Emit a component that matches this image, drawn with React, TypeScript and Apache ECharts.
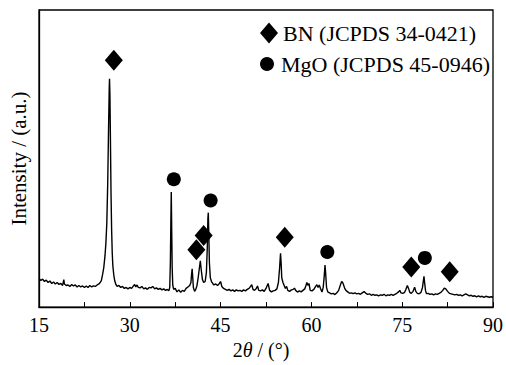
import React, { useEffect, useRef } from "react";
import * as echarts from "echarts";

const twoTheta = [
  15.0, 15.3, 15.6, 15.9, 16.2, 16.5, 16.8, 17.1, 17.4, 17.7, 18.0, 18.3, 18.6, 18.9, 19.1, 19.2, 19.5, 19.8,
  20.1, 20.4, 20.7, 21.0, 21.3, 21.6, 21.9, 22.2, 22.5, 22.8, 23.1, 23.4, 23.7, 24.0, 24.3, 24.6, 24.9, 25.1,
  25.3, 25.5, 25.7, 25.9, 26.05, 26.2, 26.35, 26.5, 26.6, 26.65, 26.72, 26.8, 26.9, 27.0, 27.1, 27.2, 27.35,
  27.5, 27.7, 27.9, 28.2, 28.5, 28.8, 29.1, 29.4, 29.7, 30.0, 30.3, 30.6, 30.8, 31.0, 31.2, 31.4, 31.7, 32.0,
  32.3, 32.6, 32.9, 33.2, 33.5, 33.8, 34.1, 34.4, 34.7, 35.0, 35.3, 35.6, 35.9, 36.2, 36.45, 36.6, 36.7, 36.78,
  36.85, 36.92, 37.0, 37.1, 37.25, 37.5, 37.8, 38.1, 38.4, 38.7, 39.0, 39.3, 39.6, 39.9, 40.1, 40.2, 40.3, 40.4,
  40.5, 40.7, 40.9, 41.1, 41.3, 41.5, 41.65, 41.8, 42.0, 42.2, 42.45, 42.65, 42.8, 42.9, 42.97, 43.05, 43.15,
  43.3, 43.5, 43.7, 43.9, 44.2, 44.5, 44.8, 45.0, 45.2, 45.5, 45.8, 46.1, 46.4, 46.7, 47.0, 47.3, 47.6, 47.9,
  48.2, 48.5, 48.8, 49.1, 49.4, 49.7, 49.95, 50.15, 50.35, 50.6, 50.9, 51.1, 51.3, 51.6, 51.9, 52.2, 52.5, 52.7,
  52.85, 53.1, 53.4, 53.7, 54.0, 54.3, 54.55, 54.75, 54.9, 55.0, 55.1, 55.3, 55.5, 55.7, 55.9, 56.1, 56.4, 56.7,
  57.0, 57.2, 57.4, 57.7, 58.0, 58.3, 58.6, 58.9, 59.1, 59.25, 59.45, 59.6, 59.8, 60.1, 60.4, 60.7, 60.9, 61.1,
  61.3, 61.5, 61.75, 61.95, 62.1, 62.25, 62.35, 62.5, 62.7, 63.0, 63.3, 63.6, 63.9, 64.2, 64.5, 64.8, 65.0,
  65.15, 65.35, 65.5, 65.7, 66.0, 66.3, 66.6, 66.9, 67.2, 67.5, 67.8, 68.1, 68.4, 68.7, 69.0, 69.3, 69.6, 69.9,
  70.2, 70.5, 70.8, 71.1, 71.4, 71.7, 72.0, 72.3, 72.6, 72.9, 73.2, 73.5, 73.8, 74.1, 74.4, 74.6, 74.8, 75.1,
  75.4, 75.6, 75.85, 76.05, 76.25, 76.5, 76.8, 77.05, 77.25, 77.5, 77.8, 78.1, 78.35, 78.5, 78.6, 78.7, 78.85,
  79.0, 79.3, 79.6, 79.9, 80.2, 80.5, 80.8, 81.1, 81.4, 81.7, 81.95, 82.2, 82.5, 82.8, 83.1, 83.4, 83.7, 84.0,
  84.3, 84.6, 84.9, 85.2, 85.5, 85.8, 86.1, 86.4, 86.7, 87.0, 87.3, 87.6, 87.9, 88.2, 88.5, 88.8, 89.1, 89.4,
  89.7, 90.0,
];

const intensity = [
  29, 27, 28.5, 26, 27.5, 25, 26.5, 24, 25.5, 23.5, 25, 23, 24, 22, 28, 23.5, 22, 22.5,
  21, 23, 21.5, 22.5, 20.5, 22, 20.5, 21.5, 20, 21.5, 20, 22, 20.5, 21.5, 21, 22.5, 23.5, 25,
  27, 33, 40, 52, 65, 85, 125, 185, 222, 232, 215, 170, 115, 78, 55, 42, 33,
  27, 23, 21, 22, 20, 21, 19, 20, 18.5, 20, 19, 21.5, 23, 20.5, 22.5, 20, 19.5, 21,
  18.5, 19.5, 18, 20, 19.5, 21, 18.5, 19.5, 18, 19, 17.5, 18.5, 17, 18, 16.5, 20, 45, 85,
  117, 80, 40, 22, 18, 19, 15.5, 17.5, 15, 17, 16, 19, 20.5, 22, 25, 33, 39, 30,
  20, 16, 18, 22, 30, 40, 47, 38, 28, 25, 26, 35, 60, 90, 96, 75, 45,
  30, 26, 24, 22.5, 23.5, 22, 24, 26, 21, 19, 18, 17, 18, 16.5, 17.5, 16, 17.5, 16.5,
  17, 16, 17.5, 16.5, 18, 19, 21, 22.7, 18, 17, 19, 21.5, 17, 16.5, 17.5, 16, 19, 22,
  24, 17, 15.5, 16.5, 17, 18.5, 25, 40, 54.7, 45, 30, 25, 22, 19, 21, 17, 16, 17.5,
  18, 19.3, 17, 15.3, 16.5, 15.5, 17, 18.5, 22, 25, 22, 24, 17, 16.5, 18, 21, 22.7, 20,
  22.5, 19, 15.3, 20, 30, 42.7, 35, 20, 15.5, 14.5, 13.5, 14, 12.7, 14.5, 17, 22.7, 26,
  25.3, 22, 19, 17, 15.5, 14, 14.5, 13.7, 14.5, 13.5, 14, 13, 14.5, 15.8, 14, 13, 13.5, 12,
  13, 12, 12.5, 11.5, 12.5, 12, 13, 11.5, 12.5, 12, 13, 12, 13, 14, 15.5, 17, 14.5, 14,
  15, 18, 22, 19, 15, 14, 16, 20.3, 16, 14, 13.5, 15, 20, 27, 31.3, 25, 17,
  13.7, 14, 13, 13.5, 12.5, 13.5, 13, 14, 15, 17, 19.3, 18.5, 16, 14, 13.5, 13, 12.5, 13,
  12, 12.5, 11.5, 12.5, 13.5, 12.5, 11.5, 12, 11, 11.5, 10.5, 11.5, 10.5, 11, 10, 11, 10.5, 10,
  10.5, 10,
];

const bnName = "BN (JCPDS 34-0421)";
const mgoName = "MgO (JCPDS 45-0946)";
const bnTheta = [27.36, 41.0, 42.2, 55.6, 76.5, 82.85];
const bnLevel = [251, 58.3, 72.7, 71, 40.7, 36];
const mgoTheta = [37.27, 43.35, 62.63, 78.74];
const mgoLevel = [130, 108.3, 56, 50];

const xTicks = [15, 30, 45, 60, 75, 90];

const FONT = "'Liberation Serif', 'Times New Roman', serif";

export default function App() {
  const ref = useRef<HTMLDivElement>(null);
  useEffect(() => {
    if (!ref.current) return;
    const chart = echarts.init(ref.current, null, { renderer: "svg" });
    const pattern = twoTheta.map((t, i) => [t, intensity[i]]);
    chart.setOption({
      animation: false,
      backgroundColor: "#fff",
      textStyle: { fontFamily: FONT, color: "#000" },
      grid: {
        left: 39,
        right: 13,
        top: 10,
        bottom: 53,
        show: true,
        borderColor: "#000",
        borderWidth: 1.3,
        backgroundColor: "transparent",
      },
      legend: [
        {
          data: [{ name: bnName, icon: "diamond" }],
          orient: "vertical",
          left: 255,
          top: 17,
          itemWidth: 18,
          itemHeight: 21,
          textStyle: { fontFamily: FONT, fontSize: 22, color: "#000" },
          selectedMode: false,
        },
        {
          data: [{ name: mgoName, icon: "circle" }],
          orient: "vertical",
          left: 255,
          top: 48,
          itemWidth: 18,
          itemHeight: 14,
          textStyle: { fontFamily: FONT, fontSize: 22, color: "#000" },
          selectedMode: false,
        },
      ],
      xAxis: {
        type: "value",
        min: xTicks[0],
        max: xTicks[xTicks.length - 1],
        interval: 15,
        name: "2{i|θ} / (°)",
        nameLocation: "middle",
        nameGap: 31,
        nameTextStyle: {
          fontFamily: FONT,
          fontSize: 20,
          color: "#000",
          padding: [0, 10, 0, 0],
          rich: { i: { fontStyle: "italic", fontFamily: FONT, fontSize: 20, color: "#000" } },
        },
        axisLine: { show: true, lineStyle: { color: "#000", width: 1.3 } },
        axisTick: { show: true, inside: true, length: 5, lineStyle: { color: "#000", width: 1 } },
        minorTick: { show: true, splitNumber: 2, length: 5, lineStyle: { color: "#000", width: 1 } },
        axisLabel: { fontFamily: FONT, fontSize: 20, color: "#000", margin: 8 },
        splitLine: { show: false },
      },
      yAxis: {
        type: "value",
        min: 0,
        max: 302,
        name: "Intensity / (a.u.)",
        nameLocation: "middle",
        nameGap: 10,
        nameTextStyle: { fontFamily: FONT, fontSize: 21, color: "#000" },
        axisLine: { show: true, lineStyle: { color: "#000", width: 1.3 } },
        axisTick: { show: false },
        axisLabel: { show: false },
        splitLine: { show: false },
      },
      series: [
        {
          type: "line",
          name: "pattern",
          data: pattern,
          showSymbol: false,
          symbol: "none",
          lineStyle: { color: "#000", width: 1.4 },
          z: 2,
        },
        {
          type: "scatter",
          name: bnName,
          data: bnTheta.map((t, i) => [t, bnLevel[i]]),
          symbol: "diamond",
          symbolSize: [18, 21],
          itemStyle: { color: "#000", opacity: 1 },
          z: 3,
        },
        {
          type: "scatter",
          name: mgoName,
          data: mgoTheta.map((t, i) => [t, mgoLevel[i]]),
          symbol: "circle",
          symbolSize: 14,
          itemStyle: { color: "#000", opacity: 1 },
          z: 3,
        },
      ],
    });
    return () => chart.dispose();
  }, []);
  return <div ref={ref} style={{ width: 506, height: 365, position: "absolute", left: 0, top: 0 }} />;
}
